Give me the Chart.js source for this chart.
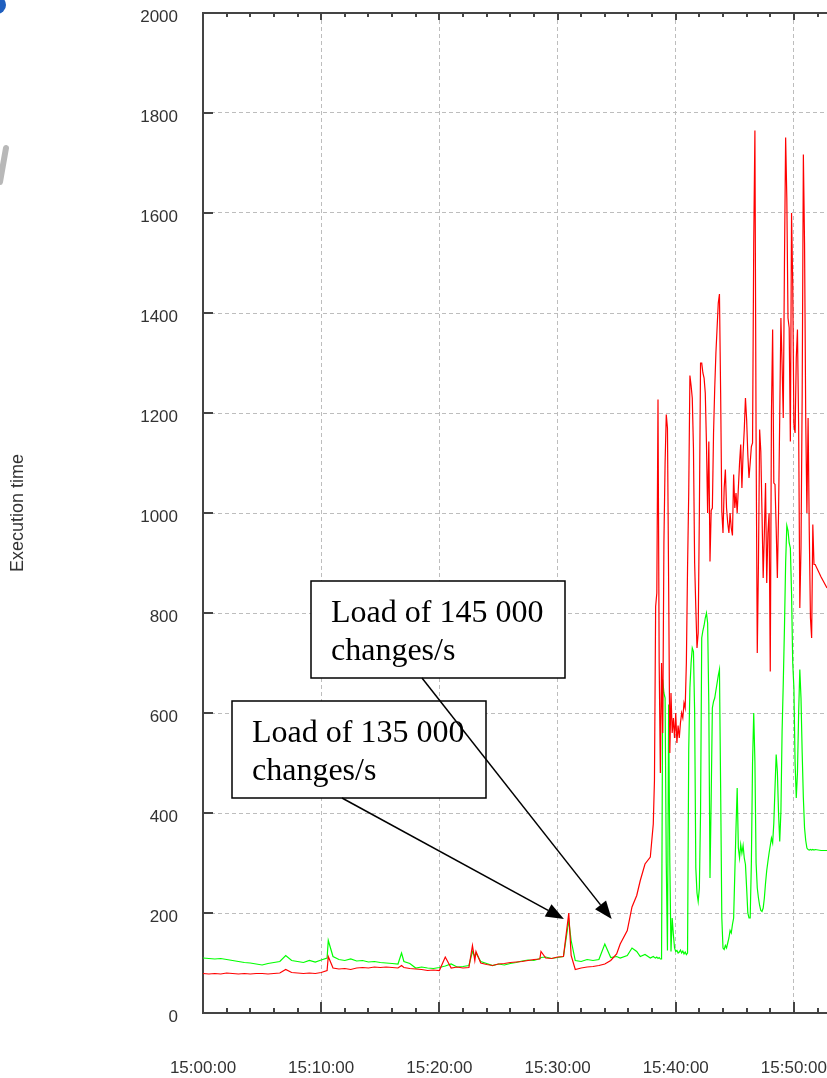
<!DOCTYPE html>
<html>
<head>
<meta charset="utf-8">
<script src="https://cdn.jsdelivr.net/npm/chart.js@4.4.1/dist/chart.umd.min.js"></script>
<style>
  html, body { margin: 0; padding: 0; background: #fff; }
</style>
</head>
<body>
<canvas id="myChart" width="827" height="1078"></canvas>
<script>
// minutes after 15:00:00
const minutes = [
  0, 0.5, 1, 1.5, 2, 2.5, 3, 3.5, 4, 4.5,
  5, 5.5, 6, 6.5, 7, 7.5, 8, 8.5, 9, 9.5,
  10, 10.5, 10.6, 11, 11.5, 12, 12.5, 13, 13.5, 14,
  14.5, 15, 15.5, 16, 16.5, 16.8, 17, 17.5, 18, 18.5,
  19, 19.5, 20, 20.5, 21, 21.5, 22, 22.5, 22.8, 23,
  23.1, 23.5, 24, 24.5, 25, 25.5, 26, 26.5, 27, 27.5,
  28, 28.5, 28.6, 29, 29.5, 30, 30.5, 30.95, 31.15, 31.5,
  32, 32.5, 33, 33.5, 34, 34.5,
  35, 35.3, 35.9, 36.3, 36.7, 37, 37.4, 37.85, 38.1, 38.2,
  38.3, 38.4, 38.5, 38.6, 38.7, 38.8, 38.9,
  39.0, 39.1, 39.2, 39.3, 39.4, 39.5, 39.6, 39.7, 39.8, 39.9,
  40.0, 40.1, 40.2, 40.3, 40.4, 40.5, 40.6, 40.7, 40.8, 40.9,
  41.0, 41.1, 41.2, 41.3, 41.4, 41.5, 41.6, 41.7, 41.8, 41.9,
  42.0, 42.1, 42.2, 42.3, 42.4, 42.5, 42.6, 42.7, 42.8, 42.9,
  43.0, 43.1, 43.2, 43.3, 43.4, 43.5, 43.6, 43.7, 43.8, 43.9,
  44.0, 44.1, 44.2, 44.3, 44.4, 44.5, 44.6, 44.7, 44.8, 44.9,
  45.0, 45.1, 45.2, 45.3, 45.4, 45.5, 45.6, 45.7, 45.8, 45.9,
  46.0, 46.1, 46.2, 46.3, 46.4, 46.5, 46.6, 46.7, 46.8, 46.9,
  47.0, 47.1, 47.2, 47.3, 47.4, 47.5, 47.6, 47.7, 47.8, 47.9,
  48.0, 48.1, 48.2, 48.3, 48.4, 48.5, 48.6, 48.7, 48.8, 48.9,
  49.0, 49.1, 49.2, 49.3, 49.4, 49.5, 49.6, 49.7, 49.8, 49.9,
  50.0, 50.1, 50.2, 50.3, 50.4, 50.5, 50.6, 50.7, 50.8, 50.9,
  51.0, 51.1, 51.2, 51.3, 51.4, 51.5, 51.6, 51.7, 51.8,
  52.3, 52.8
];

const redValues = [
  79, 78, 79, 78, 80, 79, 78, 79, 78, 79,
  79, 78, 79, 80, 87, 81, 80, 79, 80, 79,
  81, 85, 113, 90, 88, 89, 87, 90, 91, 90,
  92, 91, 92, 91, 90, 95, 91, 89, 88, 87,
  85, 86, 85, 112, 90, 92, 90, 91, 135, 105,
  123, 100, 97, 95, 98, 99, 101, 102, 103, 105,
  107, 108, 123, 110, 109, 112, 113, 200, 115, 87,
  90, 92, 93, 95, 98, 105,
  118, 138, 165, 212, 235, 265, 298, 312, 378, 465,
  813, 840, 1227, 700, 480, 700, 560,
  940, 1100, 1197, 1170, 860, 520, 640, 560, 590, 550,
  600, 540, 575, 550, 580, 600, 590, 620, 610, 700,
  890, 1040, 1275, 1255, 1230, 1130, 900, 810, 730, 760,
  1000, 1300, 1300, 1280, 1270, 1240, 1140, 1000, 1143, 903,
  1005, 1010, 1160, 1250, 1320, 1370, 1420, 1438, 1240, 1003,
  960, 1050, 1087, 1010, 980, 960, 1000, 970, 955, 1077,
  1010, 1040, 1000, 1050, 1100, 1137, 1050, 1120, 1167, 1230,
  1187, 1117, 1070, 1100, 1133, 1140, 1540, 1765, 1150, 720,
  900, 1167, 1123, 1000, 870, 960, 1060, 860, 960, 1000,
  683, 1200, 1367, 1060, 1057, 970, 870, 1000, 1193, 1390,
  1297, 1190, 1500, 1751, 1630, 1390, 1370, 1143, 1600, 1457,
  1177, 1160, 1310, 1367, 1177, 810, 930, 1237, 1717, 1540,
  1190, 1000, 1190, 963, 790, 750, 977, 897, 897,
  872, 850
];

const greenValues = [
  110, 109, 108, 109, 107, 105, 103, 101, 100, 98,
  96, 99, 101, 103, 115, 105, 103, 101, 105, 102,
  106, 110, 145, 113, 107, 105, 108, 104, 105, 102,
  103, 101, 100, 99, 98, 120, 103, 99, 90, 92,
  90, 89, 91, 94, 98, 92, 93, 95, 123, 113,
  120, 103, 99, 95, 98, 96, 99, 101, 104, 106,
  105, 109, 111, 112, 109, 111, 113, 185, 145, 105,
  103, 107, 105, 107, 138, 111,
  113, 110, 115, 130, 123, 113, 117, 110, 113, 111,
  110, 112, 109, 111, 108, 108, 667,
  640, 630, 300, 125, 617, 300, 123, 190, 157, 130,
  123, 125, 120, 122, 126, 120, 124, 118, 122, 117,
  120, 527, 650, 700, 730, 723, 603, 290, 240, 223,
  250, 400, 750, 765, 775, 790, 800, 780, 617, 270,
  430, 610, 623, 630, 645, 660, 675, 687, 450, 190,
  130, 127, 135, 130, 140, 150, 165, 160, 177, 190,
  280, 370, 450, 330, 310, 337, 320, 335, 310, 297,
  250, 200, 190, 190, 300, 500, 600, 503, 300, 250,
  230, 215, 205, 203, 210, 230, 260, 285, 303, 320,
  335, 350, 340, 380, 450, 517, 483, 400, 343, 403,
  563, 660, 770, 900, 975, 965, 940, 930, 840, 700,
  650, 500, 430, 480, 600, 687, 630, 520, 430, 370,
  345, 330, 327, 326, 327, 326, 327, 326, 327,
  325, 325
];

const xTickMinutes = [0, 10, 20, 30, 40, 50];
const xTickLabels = ["15:00:00", "15:10:00", "15:20:00", "15:30:00", "15:40:00", "15:50:00"];
const minorTickMinutes = [0, 2, 4, 6, 8, 10, 12, 14, 16, 18, 20, 22, 24, 26, 28, 30, 32, 34, 36, 38, 40, 42, 44, 46, 48, 50, 52];
const yTicks = [0, 200, 400, 600, 800, 1000, 1200, 1400, 1600, 1800, 2000];

const notes = [
  { lines: ["Load of 145 000", "changes/s"], box: [311, 581, 254, 97], from: [422, 678], at: [34.58, 188] },
  { lines: ["Load of 135 000", "changes/s"], box: [232, 701, 254, 97], from: [342, 798], at: [30.54, 188] }
];

const sans = "'Liberation Sans', Arial, sans-serif";

const framePlugin = {
  id: 'frame',
  afterDraw(chart) {
    const { ctx, chartArea: a, scales: { x, y } } = chart;
    ctx.save();
    // top border + inward ticks
    ctx.strokeStyle = '#444';
    ctx.lineWidth = 2;
    ctx.beginPath();
    ctx.moveTo(a.left - 1, a.top);
    ctx.lineTo(a.right, a.top);
    minorTickMinutes.forEach(m => {
      const px = Math.round(x.getPixelForValue(m));
      const major = m % 10 === 0;
      ctx.moveTo(px, a.bottom);
      ctx.lineTo(px, a.bottom - (major ? 11 : 5));
      ctx.moveTo(px, a.top);
      ctx.lineTo(px, a.top + (major ? 7 : 4));
    });
    yTicks.forEach(v => {
      const py = y.getPixelForValue(v);
      ctx.moveTo(a.left, py);
      ctx.lineTo(a.left + 10, py);
    });
    ctx.stroke();

    // bits of a logo at the left edge
    ctx.fillStyle = '#1f5fbf';
    ctx.beginPath();
    ctx.arc(-3, 5, 9, 0, Math.PI * 2);
    ctx.fill();
    ctx.strokeStyle = '#b8b8b8';
    ctx.lineWidth = 6;
    ctx.lineCap = 'round';
    ctx.beginPath();
    ctx.moveTo(0, 182);
    ctx.lineTo(6, 148);
    ctx.stroke();
    ctx.lineCap = 'butt';

    // annotation boxes
    ctx.font = "32px 'Liberation Serif', 'Times New Roman', serif";
    ctx.textBaseline = 'alphabetic';
    notes.forEach(n => {
      const [bx, by, bw, bh] = n.box;
      ctx.fillStyle = '#fff';
      ctx.fillRect(bx, by, bw, bh);
      ctx.strokeStyle = '#000';
      ctx.lineWidth = 1.5;
      ctx.strokeRect(bx, by, bw, bh);
      ctx.fillStyle = '#000';
      ctx.fillText(n.lines[0], bx + 20, by + 41);
      ctx.fillText(n.lines[1], bx + 20, by + 79);
    });

    // arrows
    notes.forEach(n => {
      const [sx, sy] = n.from;
      const tx = x.getPixelForValue(n.at[0]);
      const ty = y.getPixelForValue(n.at[1]);
      const ang = Math.atan2(ty - sy, tx - sx);
      const len = 18, half = 7;
      const bx = tx - len * Math.cos(ang), by = ty - len * Math.sin(ang);
      ctx.strokeStyle = '#000';
      ctx.lineWidth = 1.5;
      ctx.beginPath();
      ctx.moveTo(sx, sy);
      ctx.lineTo(bx, by);
      ctx.stroke();
      ctx.fillStyle = '#000';
      ctx.beginPath();
      ctx.moveTo(tx, ty);
      ctx.lineTo(bx + half * Math.sin(ang), by - half * Math.cos(ang));
      ctx.lineTo(bx - half * Math.sin(ang), by + half * Math.cos(ang));
      ctx.closePath();
      ctx.fill();
    });
    ctx.restore();
  }
};

new Chart("myChart", {
  type: "line",
  data: {
    datasets: [
      {
        label: "red",
        data: minutes.map((m, i) => ({ x: m, y: redValues[i] })),
        borderColor: "#ff0000",
        borderWidth: 1.2,
        pointRadius: 0,
        tension: 0,
        order: 0
      },
      {
        label: "green",
        data: minutes.map((m, i) => ({ x: m, y: greenValues[i] })),
        borderColor: "#00ff00",
        borderWidth: 1.2,
        pointRadius: 0,
        tension: 0,
        order: 1
      }
    ]
  },
  options: {
    responsive: false,
    animation: false,
    devicePixelRatio: 1,
    layout: { padding: { top: 13, left: 0, right: 0, bottom: 0 } },
    plugins: { legend: { display: false }, tooltip: { enabled: false } },
    scales: {
      x: {
        type: "linear",
        min: 0,
        max: 52.8,
        afterBuildTicks: s => { s.ticks = xTickMinutes.map(v => ({ value: v })); },
        afterFit: s => { s.height = 65; s.paddingLeft = 0; s.paddingRight = 0; },
        ticks: {
          autoSkip: false,
          maxRotation: 0,
          padding: 45,
          color: "#333",
          font: { family: sans, size: 17 },
          callback: (v, i) => xTickLabels[i]
        },
        grid: { color: "#bdbdbd", lineWidth: 1, drawTicks: false },
        border: { color: "#444", width: 2, dash: [4, 3] }
      },
      y: {
        min: 0,
        max: 2000,
        afterBuildTicks: s => { s.ticks = yTicks.map(v => ({ value: v })); },
        afterFit: s => { s.width = 203; s.paddingTop = 0; s.paddingBottom = 0; },
        ticks: {
          padding: 25,
          labelOffset: 4,
          color: "#333",
          font: { family: sans, size: 17 },
          callback: v => String(v)
        },
        grid: { color: "#bdbdbd", lineWidth: 1, drawTicks: false },
        border: { color: "#444", width: 2, dash: [4, 3] },
        title: {
          display: true,
          text: "Execution time",
          color: "#333",
          font: { family: sans, size: 18 },
          padding: { top: 7, bottom: 0 }
        }
      }
    }
  },
  plugins: [framePlugin]
});
</script>
</body>
</html>
